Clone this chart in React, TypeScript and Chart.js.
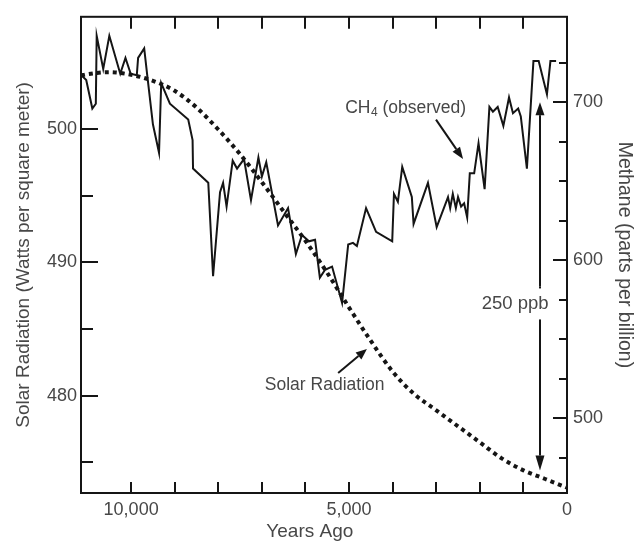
import React, { useEffect, useRef } from 'react';
import { Chart, registerables } from 'chart.js';

Chart.register(...registerables);

// Observed methane (ppb) by years before present
const CH4_YEARS = [
  11140, 11030, 10890, 10810, 10790, 10640, 10500, 10250, 10130, 10010,
  9870, 9840, 9700, 9630, 9500, 9360, 9310, 9110, 8690, 8590,
  8580, 8230, 8120, 7960, 7890, 7810, 7670, 7570, 7410, 7250,
  7080, 7000, 6900, 6630, 6400, 6220, 6080, 5920, 5780, 5670,
  5550, 5390, 5160, 5020, 4910, 4820, 4610, 4380, 4010, 3970,
  3880, 3780, 3560, 3520, 3190, 2990, 2730, 2680, 2620, 2550,
  2500, 2430, 2360, 2290, 2230, 2130, 2030, 1890, 1780, 1700,
  1590, 1460, 1330, 1240, 1120, 1060, 920, 770, 650, 460,
  380, 250,
];
const CH4_PPB = [
  717, 714, 696, 699, 742, 721, 742, 718, 728, 718,
  717, 728, 734, 717, 686, 668, 712, 699, 689, 676,
  658, 649, 590, 643, 649, 634, 663, 658, 664, 638,
  665, 653, 662, 622, 633, 604, 616, 612, 613, 589,
  594, 596, 573, 610, 611, 609, 633, 618, 612, 642,
  637, 659, 640, 623, 649, 621, 640, 633, 642, 633,
  640, 634, 636, 627, 655, 655, 674, 645, 697, 694,
  697, 685, 703, 693, 696, 691, 658, 726, 726, 705,
  726, 726,
];

// Summer insolation (W/m²) by years before present
const SOLAR_YEARS = [
  11150, 11000, 10500, 10000, 9500, 9000, 8500, 8000, 7500, 7000,
  6500, 6000, 5500, 5000, 4500, 4000, 3500, 3000, 2500, 2000,
  1500, 1000, 500, 0,
];
const SOLAR_WM2 = [
  504.0, 504.1, 504.25, 504.05, 503.6, 502.85, 501.6, 499.95, 498.1, 496.0,
  493.8, 491.6, 489.2, 486.6, 484.1, 481.8, 480.1, 478.9, 477.7, 476.5,
  475.3, 474.4, 473.75, 473.1,
];

// Tick positions and labels
const YEAR_TICKS = [10000, 9000, 8000, 7000, 6000, 5000, 4000, 3000, 2000, 1000, 0];
const YEAR_TICK_LABELS: Record<number, string> = { 10000: '10,000', 5000: '5,000', 0: '0' };
const SOLAR_TICKS = [475, 480, 485, 490, 495, 500];
const SOLAR_TICK_LABELS = [480, 490, 500];
const CH4_TICKS = [475, 500, 525, 550, 575, 600, 625, 650, 675, 700, 725];
const CH4_TICK_LABELS = [500, 600, 700];

// Annotation anchors (years, axis value)
const CH4_NOTE = { years: 5090, ppb: 696.3 };
const CH4_NOTE_ARROW = { fromYears: 3005, fromPpb: 689, toYears: 2385, toPpb: 664 };
const SOLAR_NOTE = { years: 5560, wm2: 480.75 };
const SOLAR_NOTE_ARROW = { fromYears: 5250, fromWm2: 481.7, toYears: 4590, toWm2: 483.5 };
const GAP_ARROW = { years: 620, topPpb: 700, bottomPpb: 467 };
const GAP_NOTE = { years: 1190, ppb: 572.7, text: '250 ppb' };
const X_TITLE = { text: 'Years Ago', years: 5900 };

const FONT_FAMILY = "'Liberation Sans', Arial, Helvetica, sans-serif";
const TEXT_COLOR = '#474747';
const INK = '#151515';

function arrow(ctx: CanvasRenderingContext2D, x1: number, y1: number, x2: number, y2: number, head = 12, half = 4.5) {
  const ang = Math.atan2(y2 - y1, x2 - x1);
  const bx = x2 - head * Math.cos(ang);
  const by = y2 - head * Math.sin(ang);
  ctx.beginPath();
  ctx.moveTo(x1, y1);
  ctx.lineTo(bx, by);
  ctx.stroke();
  ctx.beginPath();
  ctx.moveTo(x2, y2);
  ctx.lineTo(bx + half * Math.sin(ang), by - half * Math.cos(ang));
  ctx.lineTo(bx - half * Math.sin(ang), by + half * Math.cos(ang));
  ctx.closePath();
  ctx.fill();
}

const setTicks = (values: number[]) => (s: any) => {
  s.ticks = values.map((value) => ({ value }));
};

// Box around the plot with inward-pointing tick marks on all four sides
const frameTicks = {
  id: 'frameTicks',
  afterDatasetsDraw(chart: any) {
    const { ctx, chartArea } = chart;
    const { left, right, top, bottom } = chartArea;
    const { x, yL, yR } = chart.scales;
    ctx.save();
    ctx.strokeStyle = INK;
    ctx.lineWidth = 2;
    ctx.strokeRect(left, top, right - left, bottom - top);
    ctx.beginPath();
    x.ticks.forEach((t: any) => {
      if (t.value <= 0) return;
      const px = Math.round(x.getPixelForValue(t.value));
      ctx.moveTo(px, bottom);
      ctx.lineTo(px, bottom - 11);
      ctx.moveTo(px, top);
      ctx.lineTo(px, top + 12);
    });
    yL.ticks.forEach((t: any) => {
      const py = Math.round(yL.getPixelForValue(t.value));
      ctx.moveTo(left, py);
      ctx.lineTo(left + (SOLAR_TICK_LABELS.includes(t.value) ? 17 : 12), py);
    });
    yR.ticks.forEach((t: any) => {
      const py = Math.round(yR.getPixelForValue(t.value));
      ctx.moveTo(right, py);
      ctx.lineTo(right - (CH4_TICK_LABELS.includes(t.value) ? 14 : 8), py);
    });
    ctx.stroke();
    ctx.restore();
  },
};

// Text labels and arrows on the plot
const notes = {
  id: 'notes',
  afterDraw(chart: any) {
    const { ctx, height } = chart;
    const { x, yL, yR } = chart.scales;
    ctx.save();
    ctx.fillStyle = TEXT_COLOR;
    ctx.textBaseline = 'middle';

    // x-axis title
    ctx.textAlign = 'center';
    ctx.font = `19px ${FONT_FAMILY}`;
    ctx.fillText(X_TITLE.text, x.getPixelForValue(X_TITLE.years), height - 14);

    // CH4 (observed)
    const cx = x.getPixelForValue(CH4_NOTE.years);
    const cy = yR.getPixelForValue(CH4_NOTE.ppb);
    ctx.textAlign = 'left';
    ctx.font = `17.5px ${FONT_FAMILY}`;
    ctx.fillText('CH', cx, cy);
    let w = ctx.measureText('CH').width;
    ctx.font = `12px ${FONT_FAMILY}`;
    ctx.fillText('4', cx + w + 0.5, cy + 5);
    w += ctx.measureText('4').width + 0.5;
    ctx.font = `17.5px ${FONT_FAMILY}`;
    ctx.fillText(' (observed)', cx + w, cy);

    // Solar Radiation
    ctx.textAlign = 'center';
    ctx.fillText('Solar Radiation', x.getPixelForValue(SOLAR_NOTE.years), yL.getPixelForValue(SOLAR_NOTE.wm2));

    ctx.strokeStyle = INK;
    ctx.fillStyle = INK;
    ctx.lineWidth = 2;
    arrow(
      ctx,
      x.getPixelForValue(CH4_NOTE_ARROW.fromYears), yR.getPixelForValue(CH4_NOTE_ARROW.fromPpb),
      x.getPixelForValue(CH4_NOTE_ARROW.toYears), yR.getPixelForValue(CH4_NOTE_ARROW.toPpb),
      12, 4.5,
    );
    arrow(
      ctx,
      x.getPixelForValue(SOLAR_NOTE_ARROW.fromYears), yL.getPixelForValue(SOLAR_NOTE_ARROW.fromWm2),
      x.getPixelForValue(SOLAR_NOTE_ARROW.toYears), yL.getPixelForValue(SOLAR_NOTE_ARROW.toWm2),
      11, 4.5,
    );

    // Double-headed arrow for the methane gap
    const gx = x.getPixelForValue(GAP_ARROW.years);
    const gTop = yR.getPixelForValue(GAP_ARROW.topPpb);
    const gBot = yR.getPixelForValue(GAP_ARROW.bottomPpb);
    const mid = (gTop + gBot) / 2;
    arrow(ctx, gx, mid, gx, gTop, 13, 4.5);
    arrow(ctx, gx, mid, gx, gBot, 15, 4.5);

    ctx.font = `18.5px ${FONT_FAMILY}`;
    const tx = x.getPixelForValue(GAP_NOTE.years);
    const ty = yR.getPixelForValue(GAP_NOTE.ppb);
    const tw = ctx.measureText(GAP_NOTE.text).width;
    ctx.fillStyle = '#ffffff';
    ctx.fillRect(tx - tw / 2 - 3, ty - 15, tw + 6, 31);
    ctx.fillStyle = TEXT_COLOR;
    ctx.textAlign = 'center';
    ctx.fillText(GAP_NOTE.text, tx, ty);
    ctx.restore();
  },
};

export default function App() {
  const ref = useRef<HTMLCanvasElement>(null);

  useEffect(() => {
    const canvas = ref.current;
    if (!canvas) return;
    const tickFont = { family: FONT_FAMILY, size: 18 };
    const titleFont = { family: FONT_FAMILY, size: 19 };

    const chart = new Chart(canvas, {
      type: 'line',
      data: {
        datasets: [
          {
            label: 'CH4 (observed)',
            data: CH4_YEARS.map((yr, i) => ({ x: yr, y: CH4_PPB[i] })),
            yAxisID: 'yR',
            borderColor: INK,
            borderWidth: 2,
            pointRadius: 0,
            tension: 0,
            order: 0,
          },
          {
            label: 'Solar Radiation',
            data: SOLAR_YEARS.map((yr, i) => ({ x: yr, y: SOLAR_WM2[i] })),
            yAxisID: 'yL',
            borderColor: INK,
            borderWidth: 4,
            borderDash: [4, 4],
            borderCapStyle: 'butt',
            pointRadius: 0,
            cubicInterpolationMode: 'monotone',
            order: 1,
          },
        ],
      },
      options: {
        responsive: false,
        animation: false,
        layout: { padding: { top: 8, left: 0, right: 0, bottom: 0 } },
        plugins: {
          legend: { display: false },
          tooltip: { enabled: false },
        },
        scales: {
          x: {
            type: 'linear',
            position: 'bottom',
            reverse: true,
            min: 0,
            max: 11150,
            afterBuildTicks: setTicks(YEAR_TICKS),
            afterFit: (s: any) => { s.height = 53; },
            grid: { display: false, drawTicks: false },
            border: { display: false },
            ticks: {
              autoSkip: false,
              maxRotation: 0,
              padding: 6,
              color: TEXT_COLOR,
              font: tickFont,
              callback: (v: any) => YEAR_TICK_LABELS[Number(v)] ?? '',
            },
            title: { display: false },
          },
          yL: {
            type: 'linear',
            position: 'left',
            min: 472.7,
            max: 508.4,
            afterBuildTicks: setTicks(SOLAR_TICKS),
            afterFit: (s: any) => { s.width = 81; },
            grid: { display: false, drawTicks: false },
            border: { display: false },
            ticks: {
              autoSkip: false,
              padding: 4,
              color: TEXT_COLOR,
              font: tickFont,
              callback: (v: any) => (SOLAR_TICK_LABELS.includes(Number(v)) ? String(v) : ''),
            },
            title: {
              display: true,
              text: 'Solar Radiation (Watts per square meter)',
              color: TEXT_COLOR,
              font: titleFont,
              padding: { top: 12, bottom: 0 },
            },
          },
          yR: {
            type: 'linear',
            position: 'right',
            min: 452.8,
            max: 754,
            afterBuildTicks: setTicks(CH4_TICKS),
            afterFit: (s: any) => { s.width = 69; },
            grid: { display: false, drawTicks: false },
            border: { display: false },
            ticks: {
              autoSkip: false,
              padding: 6,
              color: TEXT_COLOR,
              font: tickFont,
              callback: (v: any) => (CH4_TICK_LABELS.includes(Number(v)) ? String(v) : ''),
            },
            title: {
              display: true,
              text: 'Methane (parts per billion)',
              color: TEXT_COLOR,
              font: { family: FONT_FAMILY, size: 19.5 },
              padding: { top: 0, bottom: 0 },
            },
          },
        },
      },
      plugins: [frameTicks, notes],
    });

    return () => chart.destroy();
  }, []);

  return (
    <div style={{ position: 'fixed', left: 0, top: 0, width: 636, height: 546, background: '#fff' }}>
      <canvas ref={ref} width={636} height={546} />
    </div>
  );
}
